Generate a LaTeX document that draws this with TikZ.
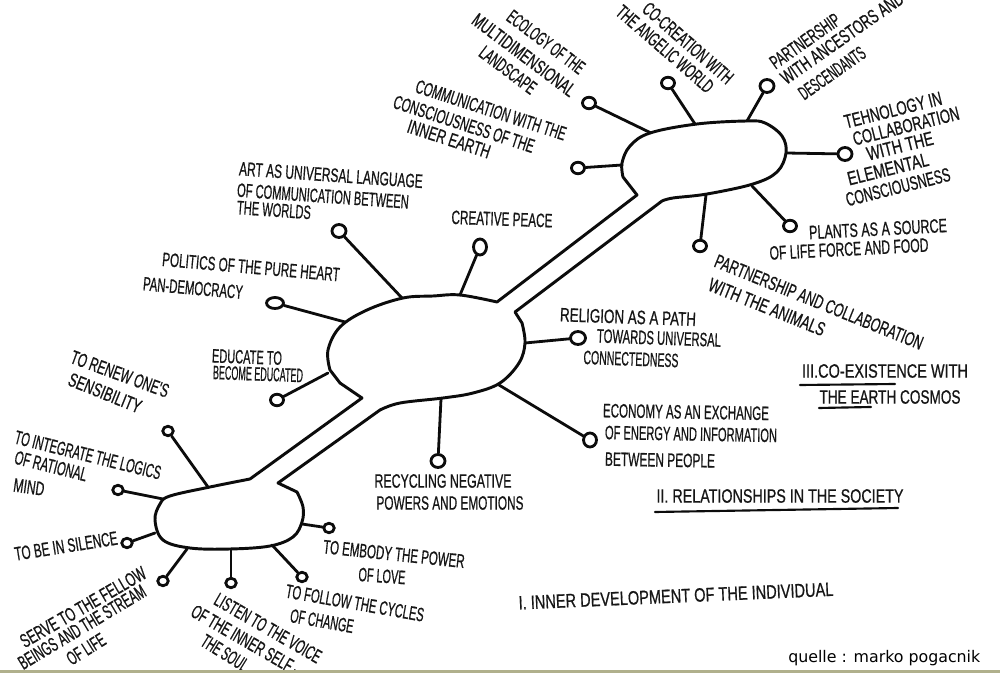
\documentclass[tikz,border=0pt]{standalone}
\usepackage{fontspec}
\usepackage{graphicx}
\setmainfont{Liberation Sans}
\newfontfamily\handfont[FakeBold=0.8]{Liberation Sans}
\newfontfamily\creditfont{DejaVu Sans}
\usetikzlibrary{shapes.geometric}
\newlength\pxu
\setlength\pxu{0.75pt}
\newcommand\hw[2]{\resizebox{#1\pxu}{\height}{#2}}
\definecolor{ink}{RGB}{22,22,22}
\definecolor{penc}{RGB}{12,12,12}
\definecolor{borderc}{RGB}{176,176,140}
\begin{document}
\begin{tikzpicture}[x=0.75pt,y=-0.75pt,
  pen/.style={draw=penc, line width=2.2pt, line join=round, line cap=round},
  hl/.style={inner sep=0pt, text=ink, font=\handfont\fontsize{14.5pt}{17pt}\selectfont},
  dot/.style={ellipse, draw=penc, line width=2.1pt, fill=white, inner sep=0pt, minimum width=13\pxu, minimum height=11.5\pxu},
  sdot/.style={dot, minimum width=10.5\pxu, minimum height=9.5\pxu},
  stem/.style={draw=penc, line width=2.1pt, line cap=round}]
\fill[white] (0,0) rectangle (1000,673);
\useasboundingbox (0,0) rectangle (1000,673);
\clip (0,0) rectangle (1000,673);

% ---------- the three connected bodies ----------
\draw[pen] (637,195) -- plot[smooth, tension=0.6] coordinates {(623,177) (622,163) (630,146) (650,133) (697,124) (747,121) (765,123) (782,136) (786,153) (777,172) (753,184) (707,194) (673,198) (662,201)}
  -- (515,312)
  -- plot[smooth, tension=0.6] coordinates {(522,323) (525,343) (519,363) (500,383) (473,393) (443,398) (400,403) (380,410)}
  -- (278,483)
  -- plot[smooth, tension=0.6] coordinates {(297,492) (303,507) (302,522) (293,537) (270,546) (230,549) (190,548) (163,540) (155,520) (160,504) (170,496) (210,487) (250,479)}
  -- (362,398) -- (340,383)
  -- plot[smooth, tension=0.6] coordinates {(330,370) (328,350) (340,327) (367,310) (403,298) (433,296) (460,295) (497,302)}
  -- cycle;

% ---------- attachment points on the bodies ----------
\coordinate (aT1) at (651,133);
\coordinate (aT2) at (695,124);
\coordinate (aT3) at (747,121);
\coordinate (aT4) at (786,153);
\coordinate (aT5) at (752,186);
\coordinate (aT6) at (706,195);
\coordinate (aT7) at (622,165);
\coordinate (aM1) at (402,298);
\coordinate (aM2) at (460,295);
\coordinate (aM3) at (345,322);
\coordinate (aM4) at (328,373);
\coordinate (aM5) at (525,343);
\coordinate (aM6) at (499,385);
\coordinate (aM7) at (441,399);
\coordinate (aB1) at (208,487);
\coordinate (aB2) at (163,499);
\coordinate (aB3) at (155,533);
\coordinate (aB4) at (187,549);
\coordinate (aB5) at (231,549);
\coordinate (aB6) at (272,545);
\coordinate (aB7) at (302,524);

% ---------- small circles ----------
\node[dot] (cT1) at (589,103) {};
\node[dot] (cT2) at (668,83) {};
\node[dot, minimum width=14\pxu, minimum height=13\pxu] (cT3) at (767,86) {};
\node[dot, minimum width=14\pxu, minimum height=13\pxu] (cT4) at (845,154) {};
\node[dot] (cT5) at (790,226) {};
\node[dot] (cT6) at (700,246) {};
\node[dot] (cT7) at (578,168) {};
\node[dot, minimum width=14\pxu, minimum height=13\pxu] (cM1) at (339,231) {};
\node[dot, minimum width=13\pxu, minimum height=16\pxu] (cM2) at (480,247) {};
\node[dot, minimum width=17\pxu, minimum height=11\pxu] (cM3) at (275,303) {};
\node[dot] (cM4) at (277,400) {};
\node[dot, minimum width=15\pxu, minimum height=13\pxu] (cM5) at (578,338) {};
\node[dot, minimum width=13\pxu, minimum height=14\pxu] (cM6) at (590,440) {};
\node[dot, minimum width=14\pxu, minimum height=13\pxu] (cM7) at (438,461) {};
\node[sdot] (cB1) at (168,431) {};
\node[sdot] (cB2) at (118,490) {};
\node[sdot] (cB3) at (127,543) {};
\node[sdot] (cB4) at (163,581) {};
\node[sdot] (cB5) at (231,583) {};
\node[sdot] (cB6) at (302,577) {};
\node[sdot] (cB7) at (329,528) {};

% ---------- stems ----------
\foreach \n in {T1,T2,T3,T4,T5,T6,T7,M1,M2,M3,M4,M5,M6,M7,B1,B2,B3,B4,B5,B6,B7}
  \draw[stem] (c\n) -- (a\n);

% ---------- III. co-existence with the earth cosmos ----------
\node[hl, rotate=-37] (eco1) at (546,42) {\hw{92}{ECOLOGY OF THE}};
\node[hl, rotate=-37] (eco2) at (524,55) {\hw{124}{MULTIDIMENSIONAL}};
\node[hl, rotate=-37] (eco3) at (508,70) {\hw{66}{LANDSCAPE}};
\node[hl, rotate=-41] (co1) at (688,43) {\hw{113}{CO-CREATION WITH}};
\node[hl, rotate=-41] (co2) at (665,49) {\hw{122}{THE ANGELIC WORLD}};
\node[hl, rotate=35] (pa1) at (805,41) {\hw{81}{PARTNERSHIP}};
\node[hl, rotate=35] (pa2) at (842,38) {\hw{145}{WITH ANCESTORS AND}};
\node[hl, rotate=35] (pa3) at (832,73) {\hw{77}{DESCENDANTS}};
\node[hl, rotate=14] (te1) at (893,110) {\hw{100}{TEHNOLOGY IN}};
\node[hl, rotate=14] (te2) at (906,126) {\hw{109}{COLLABORATION}};
\node[hl, rotate=14] (te3) at (900,146) {\hw{68}{WITH THE}};
\node[hl, rotate=14] (te4) at (888,169) {\hw{83}{ELEMENTAL}};
\node[hl, rotate=14] (te5) at (898,187) {\hw{107}{CONSCIOUSNESS}};
\node[hl, rotate=3] (pl1) at (878,229) {\hw{138}{PLANTS AS A SOURCE}};
\node[hl, rotate=3] (pl2) at (849,249) {\hw{159}{OF LIFE FORCE AND FOOD}};
\node[hl, rotate=-22] (an1) at (819,302) {\hw{223}{PARTNERSHIP AND COLLABORATION}};
\node[hl, rotate=-22] (an2) at (767,307) {\hw{124}{WITH THE ANIMALS}};
\node[hl, rotate=-18] (cm1) at (491,110) {\hw{157}{COMMUNICATION WITH THE}};
\node[hl, rotate=-18] (cm2) at (464,124) {\hw{147}{CONSCIOUSNESS OF THE}};
\node[hl, rotate=-18] (cm3) at (449,139) {\hw{86}{INNER EARTH}};
\node[hl] (t3a) at (885,371) {\hw{166}{III.CO-EXISTENCE WITH}};
\node[hl] (t3b) at (890,397) {\hw{141}{THE EARTH COSMOS}};
\draw[pen, line width=1.6pt] (800,385) -- (895,384);
\draw[pen, line width=1.6pt] (819,408) -- (871,407);

% ---------- II. relationships in the society ----------
\node[hl, rotate=-4] (ar1) at (331,175) {\hw{184}{ART AS UNIVERSAL LANGUAGE}};
\node[hl, rotate=-4] (ar2) at (323,196) {\hw{172}{OF COMMUNICATION BETWEEN}};
\node[hl, rotate=-4] (ar3) at (274,210) {\hw{74}{THE WORLDS}};
\node[hl, rotate=-2] (cp) at (502,219) {\hw{101}{CREATIVE PEACE}};
\node[hl, rotate=-5] (po1) at (251,267) {\hw{178}{POLITICS OF THE PURE HEART}};
\node[hl, rotate=-5] (po2) at (193,288) {\hw{100}{PAN-DEMOCRACY}};
\node[hl, rotate=-2] (ed1) at (247,357) {\hw{70}{EDUCATE TO}};
\node[hl, rotate=-2] (ed2) at (258,374) {\hw{90}{BECOME EDUCATED}};
\node[hl, rotate=-2] (re1) at (628,317) {\hw{136}{RELIGION AS A PATH}};
\node[hl, rotate=-2] (re2) at (659,338) {\hw{124}{TOWARDS UNIVERSAL}};
\node[hl, rotate=-2] (re3) at (631,359) {\hw{95}{CONNECTEDNESS}};
\node[hl, rotate=-1] (ec1) at (686,412) {\hw{166}{ECONOMY AS AN EXCHANGE}};
\node[hl, rotate=-1] (ec2) at (691,434) {\hw{172}{OF ENERGY AND INFORMATION}};
\node[hl, rotate=-1] (ec3) at (660,460) {\hw{110}{BETWEEN PEOPLE}};
\node[hl] (rc1) at (443,481) {\hw{137}{RECYCLING NEGATIVE}};
\node[hl] (rc2) at (450,503) {\hw{147}{POWERS AND EMOTIONS}};
\node[hl] (t2) at (780,496) {\hw{247}{II. RELATIONSHIPS IN THE SOCIETY}};
\draw[pen, line width=1.6pt] (655,512) -- (898,508);

% ---------- I. inner development of the individual ----------
\node[hl, rotate=-20] (rn1) at (120,374) {\hw{103}{TO RENEW ONE'S}};
\node[hl, rotate=-22] (rn2) at (105,393) {\hw{77}{SENSIBILITY}};
\node[hl, rotate=-14] (in1) at (88,455) {\hw{150}{TO INTEGRATE THE LOGICS}};
\node[hl, rotate=-14] (in2) at (51,466) {\hw{74}{OF RATIONAL}};
\node[hl, rotate=-8] (in3) at (29,487) {\hw{31}{MIND}};
\node[hl, rotate=9] (si) at (66,546) {\hw{104}{TO BE IN SILENCE}};
\node[hl, rotate=30] (se1) at (83,607) {\hw{142}{SERVE TO THE FELLOW}};
\node[hl, rotate=31] (se2) at (82,627) {\hw{145}{BEINGS AND THE STREAM}};
\node[hl, rotate=32] (se3) at (86,649) {\hw{42}{OF LIFE}};
\node[hl, rotate=-30] (li1) at (268,628) {\hw{120}{LISTEN TO THE VOICE}};
\node[hl, rotate=-30] (li2) at (247,641) {\hw{125}{OF THE INNER SELF --}};
\node[hl, rotate=-32] (li3) at (225,653) {\hw{52}{THE SOUL}};
\node[hl, rotate=-10] (fo1) at (355,603) {\hw{140}{TO FOLLOW THE CYCLES}};
\node[hl, rotate=-10] (fo2) at (322,621) {\hw{64}{OF CHANGE}};
\node[hl, rotate=-6] (em1) at (394,554) {\hw{142}{TO EMBODY THE POWER}};
\node[hl, rotate=-4] (em2) at (382,576) {\hw{47}{OF LOVE}};
\node[hl, rotate=2.5] (t1) at (676,596) {\hw{315}{I. INNER DEVELOPMENT OF THE INDIVIDUAL}};

% ---------- credit and lower frame line ----------
\node[inner sep=0pt, anchor=base west, text=black, font=\creditfont\fontsize{12pt}{14pt}\selectfont] (credit) at (788,662) {\hw{192}{quelle : marko pogacnik}};
\draw[draw=borderc, line width=2.2pt] (0,671.5) -- (1000,671.5);
\end{tikzpicture}
\end{document}
